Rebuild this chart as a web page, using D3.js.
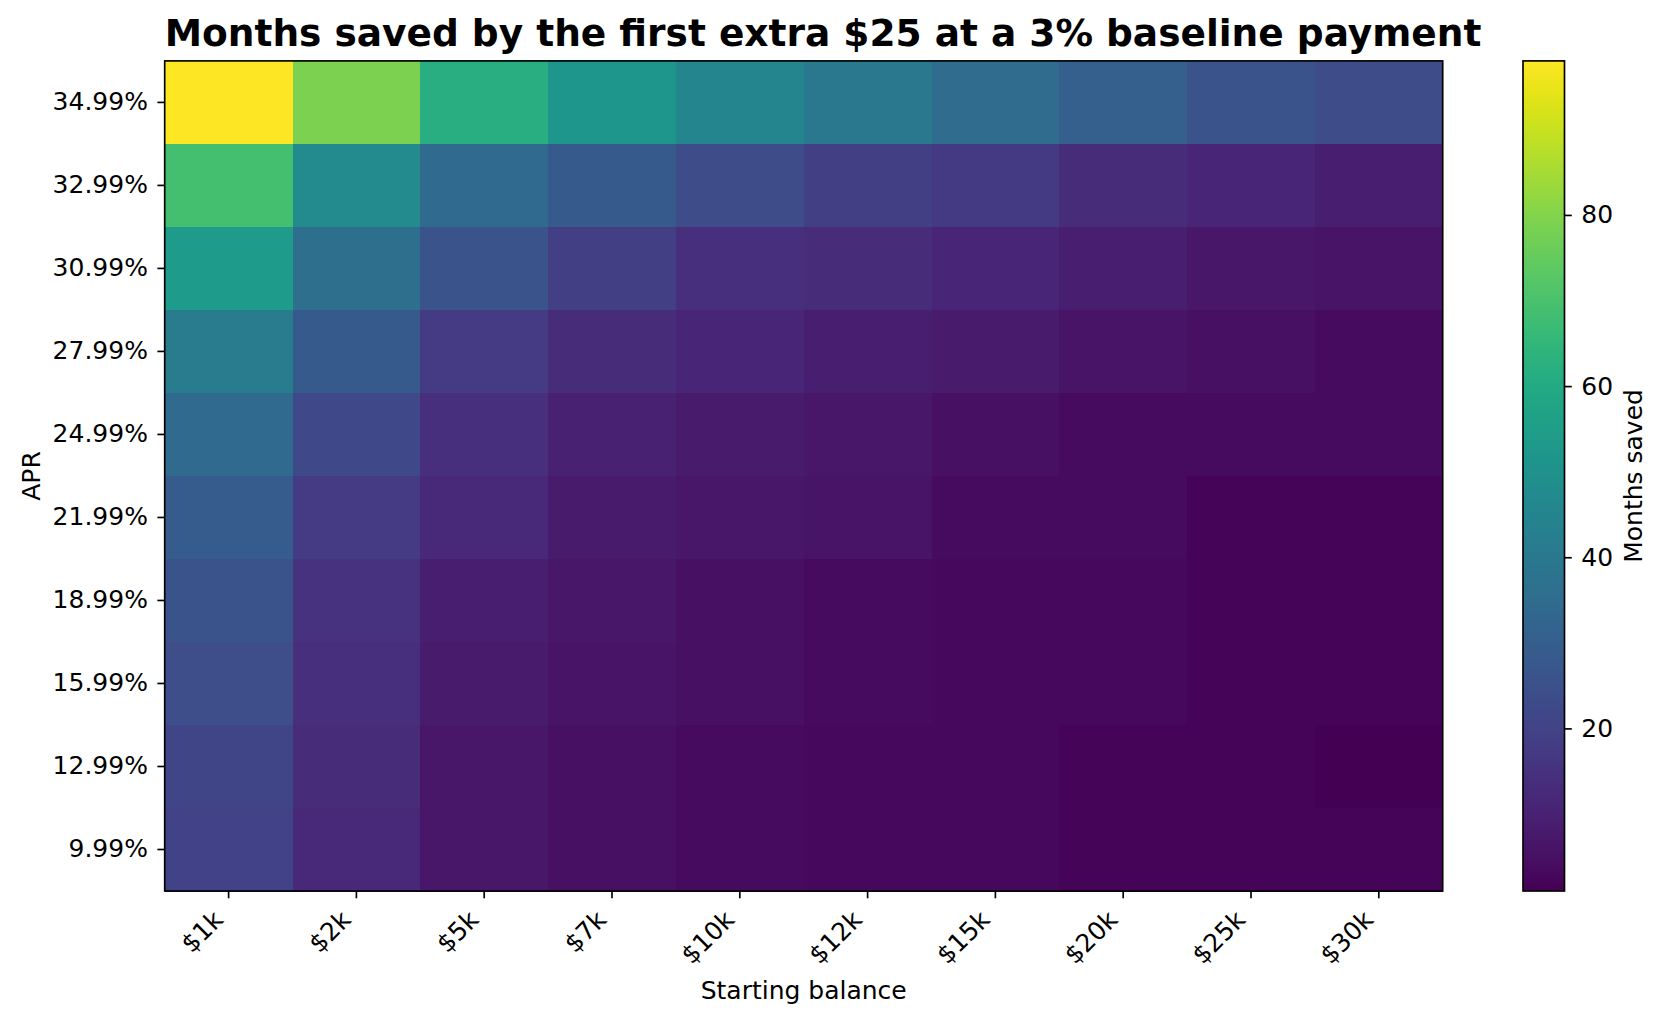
<!DOCTYPE html>
<html>
<head>
<meta charset="utf-8">
<script src="https://cdn.jsdelivr.net/npm/d3@7"></script>
<style>
  html, body { margin: 0; padding: 0; background: #ffffff; }
  svg { display: block; font-family: "DejaVu Sans", sans-serif; }
</style>
</head>
<body>
<svg id="chart" width="1666" height="1023"></svg>
<script>
// ---------- data ----------
const balances = ["$1k", "$2k", "$5k", "$7k", "$10k", "$12k", "$15k", "$20k", "$25k", "$30k"];
const aprs = ["34.99%", "32.99%", "30.99%", "27.99%", "24.99%", "21.99%", "18.99%", "15.99%", "12.99%", "9.99%"];
const apr3499 = [98, 79, 62, 52, 45, 40, 35, 30, 26, 23];
const apr3299 = [69, 47, 34, 28, 23, 19, 17, 13, 11, 9];
const apr3099 = [54, 36, 26, 19, 14, 13, 11, 9, 7, 6];
const apr2799 = [41, 28, 18, 13, 11, 9, 8, 6, 5, 4];
const apr2499 = [34, 22, 14, 10, 8, 7, 5, 4, 4, 4];
const apr2199 = [29, 18, 12, 8, 7, 6, 4, 4, 2, 2];
const apr1899 = [26, 15, 9, 7, 5, 4, 3, 3, 2, 2];
const apr1599 = [24, 14, 8, 6, 5, 4, 3, 3, 2, 2];
const apr1299 = [21, 13, 7, 5, 4, 3, 3, 2, 2, 1];
const apr999  = [20, 12, 7, 5, 4, 3, 3, 2, 2, 2];
const colorbarTicks = [20, 40, 60, 80];
const titleText = "Months saved by the first extra $25 at a 3% baseline payment";
const xLabel = "Starting balance";
const yLabel = "APR";
const cbLabel = "Months saved";

const rows = [apr3499, apr3299, apr3099, apr2799, apr2499, apr2199, apr1899, apr1599, apr1299, apr999];
const cells = [];
rows.forEach((r, i) => r.forEach((v, j) => cells.push({ apr: aprs[i], bal: balances[j], v })));

// ---------- layout ----------
const plot = { left: 164.7, right: 1442.7, top: 60.9, bottom: 891 };
const cb = { left: 1523, right: 1564.5 };
const fs = 25, tickLen = 7.3, tickPad = 9.5, lw = 1.67;

const svg = d3.select("#chart");

const x = d3.scaleBand().domain(balances).range([plot.left, plot.right]).padding(0);
const y = d3.scaleBand().domain(aprs).range([plot.top, plot.bottom]).padding(0);
const vmin = 1, vmax = 98;
const color = d3.scaleSequential(d3.interpolateViridis).domain([vmin, vmax]);

// cells
svg.append("g").selectAll("rect").data(cells).join("rect")
  .attr("x", d => x(d.bal))
  .attr("y", d => y(d.apr))
  .attr("width", x.bandwidth() + 0.5)
  .attr("height", y.bandwidth() + 0.5)
  .attr("fill", d => color(d.v))
  .attr("shape-rendering", "crispEdges");

// frame
svg.append("rect")
  .attr("x", plot.left).attr("y", plot.top)
  .attr("width", plot.right - plot.left).attr("height", plot.bottom - plot.top)
  .attr("fill", "none").attr("stroke", "#000").attr("stroke-width", lw);

// x axis
const xAxis = svg.append("g")
  .attr("transform", `translate(0,${plot.bottom})`)
  .call(d3.axisBottom(x).tickSize(tickLen).tickPadding(tickPad).tickSizeOuter(0));
xAxis.select(".domain").remove();
xAxis.selectAll(".tick line").attr("stroke", "#000").attr("stroke-width", lw);
xAxis.selectAll(".tick text")
  .attr("font-size", fs).attr("fill", "#000")
  .attr("font-family", "DejaVu Sans")
  .attr("text-anchor", "end")
  .attr("dy", null)
  .attr("y", null)
  .attr("transform", `translate(${-0.7071 * 0.236 * fs},${tickLen + tickPad + 0.7071 * 0.76 * fs}) rotate(-45)`);

// y axis
const yAxis = svg.append("g")
  .attr("transform", `translate(${plot.left},0)`)
  .call(d3.axisLeft(y).tickSize(tickLen).tickPadding(tickPad).tickSizeOuter(0));
yAxis.select(".domain").remove();
yAxis.selectAll(".tick line").attr("stroke", "#000").attr("stroke-width", lw);
yAxis.selectAll(".tick text").attr("font-size", fs).attr("fill", "#000").attr("font-family", "DejaVu Sans");

// title
svg.append("text")
  .attr("x", plot.left).attr("y", 46)
  .attr("font-size", 37.5).attr("font-weight", "bold").attr("fill", "#000")
  .text(titleText);

// axis labels
svg.append("text")
  .attr("x", (plot.left + plot.right) / 2).attr("y", 999)
  .attr("text-anchor", "middle").attr("font-size", fs).attr("fill", "#000")
  .text(xLabel);
svg.append("text")
  .attr("transform", `translate(40,${(plot.top + plot.bottom) / 2}) rotate(-90)`)
  .attr("text-anchor", "middle").attr("font-size", fs).attr("fill", "#000")
  .text(yLabel);

// colorbar
const defs = svg.append("defs");
const grad = defs.append("linearGradient").attr("id", "cbgrad")
  .attr("x1", "0").attr("y1", "1").attr("x2", "0").attr("y2", "0");
d3.range(0, 1.0001, 0.02).forEach(t => {
  grad.append("stop").attr("offset", t).attr("stop-color", d3.interpolateViridis(t));
});
svg.append("rect")
  .attr("x", cb.left).attr("y", plot.top)
  .attr("width", cb.right - cb.left).attr("height", plot.bottom - plot.top)
  .attr("fill", "url(#cbgrad)")
  .attr("stroke", "#000").attr("stroke-width", lw);

const cy = d3.scaleLinear().domain([vmin, vmax]).range([plot.bottom, plot.top]);
const cAxis = svg.append("g")
  .attr("transform", `translate(${cb.right},0)`)
  .call(d3.axisRight(cy).tickValues(colorbarTicks).tickSize(tickLen).tickPadding(tickPad).tickSizeOuter(0));
cAxis.select(".domain").remove();
cAxis.selectAll(".tick line").attr("stroke", "#000").attr("stroke-width", lw);
cAxis.selectAll(".tick text").attr("font-size", fs).attr("fill", "#000").attr("font-family", "DejaVu Sans");

svg.append("text")
  .attr("transform", `translate(1642,${(plot.top + plot.bottom) / 2}) rotate(-90)`)
  .attr("text-anchor", "middle").attr("font-size", fs).attr("fill", "#000")
  .text(cbLabel);
</script>
</body>
</html>
